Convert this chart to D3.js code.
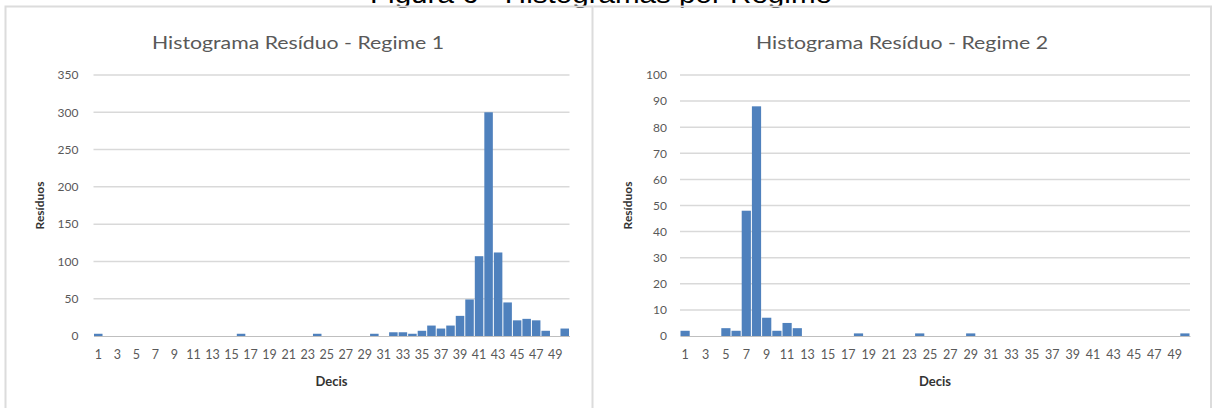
<!DOCTYPE html>
<html>
<head>
<meta charset="utf-8">
<script src="https://cdn.jsdelivr.net/npm/d3@7/dist/d3.min.js"></script>
<style>
  html, body { margin: 0; padding: 0; background: #fff; overflow: hidden; }
  svg { display: block; }
  text { font-family: Lato, "Open Sans", sans-serif; }
</style>
</head>
<body>
<svg id="chart" width="1212" height="408"></svg>
<script>
// Residual counts per decile bin, one array per regime
const decis = [1,2,3,4,5,6,7,8,9,10,11,12,13,14,15,16,17,18,19,20,21,22,23,24,25,
               26,27,28,29,30,31,32,33,34,35,36,37,38,39,40,41,42,43,44,45,46,47,48,49,50];
const residuosRegime1 = [3,0,0,0,0,0,0,0,0,0,0,0,0,0,0,3,0,0,0,0,0,0,0,3,0,
                         0,0,0,0,3,0,5,5,3,7,14,10,14,27,49,107,300,112,45,21,23,21,7,0,10];
const residuosRegime2 = [2,0,0,0,3,2,48,88,7,2,5,3,0,0,0,0,0,1,0,0,0,0,0,1,0,
                         0,0,0,1,0,0,0,0,0,0,0,0,0,0,0,0,0,0,0,0,0,0,0,0,1];
const xTickLabels = [1,3,5,7,9,11,13,15,17,19,21,23,25,27,29,31,33,35,37,39,41,43,45,47,49];
const yTicksRegime1 = [0,50,100,150,200,250,300,350];
const yTicksRegime2 = [0,10,20,30,40,50,60,70,80,90,100];

const svg = d3.select("#chart");

// Figure caption, partly above the top edge
svg.append("text")
  .attr("x", 601).attr("y", 3)
  .attr("text-anchor", "middle")
  .attr("textLength", 462)
  .attr("lengthAdjust", "spacingAndGlyphs")
  .style("font-family", "'Liberation Sans', Arial, sans-serif")
  .style("font-size", "25px")
  .attr("fill", "#000")
  .text("Figura 6 - Histogramas por Regime");

// Panel frames
const frame = svg.append("g").attr("fill", "none").attr("stroke", "#dcdcdc").attr("stroke-width", 2);
frame.append("path").attr("d", "M5.5,420 V6.5 H592.5 V420");
frame.append("path").attr("d", "M593.5,6.5 H1211 V420");

function drawPanel(cfg) {
  const g = svg.append("g");
  const x = d3.scaleBand().domain(decis).range([cfg.left, cfg.right]).padding(0);
  const y = d3.scaleLinear().domain([0, cfg.yMax]).range([cfg.bottom, cfg.top]);

  // Title
  g.append("text")
    .attr("x", cfg.titleX).attr("y", 49)
    .attr("text-anchor", "middle")
    .attr("textLength", 292)
    .attr("lengthAdjust", "spacingAndGlyphs")
    .style("font-size", "18px")
    .attr("fill", "#595959")
    .text(cfg.title);

  // Horizontal gridlines
  g.append("g").selectAll("line")
    .data(cfg.yTicks.filter(d => d > 0))
    .join("line")
    .attr("x1", cfg.left).attr("x2", cfg.right)
    .attr("y1", d => y(d)).attr("y2", d => y(d))
    .attr("stroke", "#d9d9d9").attr("stroke-width", 1.5);

  // Bars
  g.append("g").selectAll("rect")
    .data(decis.map((d, i) => ({ d, v: cfg.values[i] })).filter(o => o.v > 0))
    .join("rect")
    .attr("x", o => x(o.d) + 0.5)
    .attr("width", x.bandwidth() - 1)
    .attr("y", o => y(o.v))
    .attr("height", o => y(0) - y(o.v))
    .attr("fill", "#4f81bd");

  // Y axis
  const yAxis = g.append("g")
    .attr("transform", `translate(${cfg.left},0)`)
    .call(d3.axisLeft(y).tickValues(cfg.yTicks).tickSize(0).tickPadding(cfg.yPad).tickFormat(d3.format("d")));
  yAxis.select(".domain").remove();
  yAxis.selectAll("text").style("font-size", "12px").attr("fill", "#595959").style("font-family", "Lato, sans-serif");

  // X axis
  const xAxis = g.append("g")
    .attr("transform", `translate(0,${cfg.bottom})`)
    .call(d3.axisBottom(x).tickValues(xTickLabels).tickSize(0).tickPadding(14));
  xAxis.select(".domain").attr("stroke", "#bfbfbf").attr("stroke-width", 1.2);
  xAxis.selectAll("text").style("font-size", "12.5px").attr("fill", "#595959").style("font-family", "Lato, sans-serif");

  // Axis titles
  g.append("text")
    .attr("x", (cfg.left + cfg.right) / 2).attr("y", 386)
    .attr("text-anchor", "middle")
    .style("font-size", "13px").style("font-weight", "bold")
    .attr("fill", "#333")
    .text("Decis");

  g.append("text")
    .attr("transform", `translate(${cfg.yTitleX},${(cfg.top + cfg.bottom) / 2}) rotate(-90)`)
    .attr("text-anchor", "middle")
    .style("font-size", "12px").style("font-weight", "bold")
    .attr("fill", "#333")
    .text("Resíduos");
}

drawPanel({
  title: "Histograma Resíduo - Regime 1", titleX: 298,
  values: residuosRegime1, yMax: 350, yTicks: yTicksRegime1,
  left: 93.5, right: 569.5, top: 75, bottom: 336, yPad: 15, yTitleX: 44
});

drawPanel({
  title: "Histograma Resíduo - Regime 2", titleX: 902,
  values: residuosRegime2, yMax: 100, yTicks: yTicksRegime2,
  left: 680, right: 1190, top: 75, bottom: 336, yPad: 13, yTitleX: 632
});
</script>
</body>
</html>
